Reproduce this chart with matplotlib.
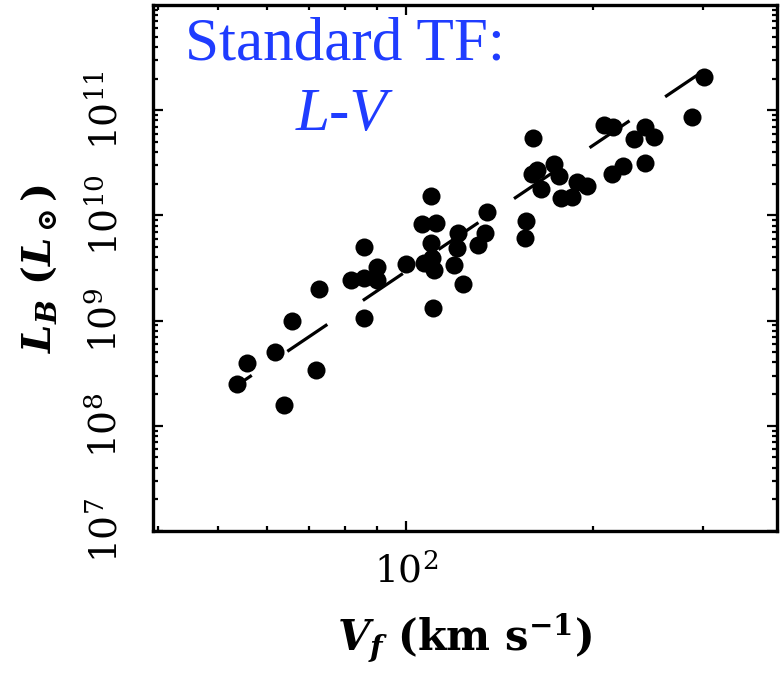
import numpy as np
import matplotlib
matplotlib.use("Agg")
import matplotlib.pyplot as plt
from matplotlib.ticker import FixedLocator, LogLocator, NullFormatter

# Rotation velocity (km/s) and B-band luminosity (L_sun)
v_f = [53.6, 55.7, 61.7, 63.7, 65.7, 71.7, 72.6, 81.6, 85.8, 85.8,
       85.8, 89.8, 89.8, 100.0, 106.9, 109.7, 106.4, 111.7, 109.7, 110.1,
       111.0, 110.7, 119.5, 123.7, 121.1, 121.0, 130.7, 133.9, 135.2, 155.1,
       155.7, 159.8, 159.4, 162.2, 172.9, 164.6, 176.1, 177.2, 185.0, 188.4,
       195.5, 207.9, 215.1, 232.2, 242.4, 250.6, 214.4, 223.3, 242.4, 288.0,
       300.6]
l_b = [2.48e8, 3.95e8, 4.98e8, 1.59e8, 9.9e8, 3.39e8, 2.0e9, 2.42e9, 5.04e9, 2.52e9,
       1.07e9, 3.2e9, 2.43e9, 3.49e9, 3.53e9, 1.53e10, 8.28e9, 8.47e9, 5.43e9, 3.94e9,
       3.03e9, 1.33e9, 3.38e9, 2.21e9, 6.76e9, 4.9e9, 5.23e9, 6.76e9, 1.08e10, 6.1e9,
       8.94e9, 5.41e10, 2.5e10, 2.7e10, 3.08e10, 1.78e10, 2.37e10, 1.45e10, 1.51e10, 2.09e10,
       1.9e10, 7.23e10, 6.92e10, 5.32e10, 6.97e10, 5.6e10, 2.5e10, 2.92e10, 3.13e10, 8.53e10,
       2.07e11]

# fitted relation, L ~ V^4
fit_v = [53.6, 300.6]
fit_l = [2.42e8, 2.37e11]

ytick_vals = [1e7, 1e8, 1e9, 1e10, 1e11]
ytick_labels = [r"$\mathdefault{10^{7}}$", r"$\mathdefault{10^{8}}$", r"$\mathdefault{10^{9}}$",
                r"$\mathdefault{10^{10}}$", r"$\mathdefault{10^{11}}$"]
xtick_vals = [100]
xtick_labels = [r"$\mathdefault{10^{2}}$"]

blue = "#1f3cff"

plt.rcParams["font.family"] = ["DejaVu Serif"]
plt.rcParams["mathtext.fontset"] = "custom"
plt.rcParams["mathtext.rm"] = "DejaVu Serif:bold"
plt.rcParams["mathtext.it"] = "DejaVu Serif:italic:bold"
plt.rcParams["mathtext.bf"] = "DejaVu Serif:bold"
plt.rcParams["lines.scale_dashes"] = False

fig = plt.figure(figsize=(7.82, 6.89), dpi=100)
ax = fig.add_axes([0.1953, 0.2293, 0.7983, 0.7634])

# long-dashed fit line, then the galaxies
ax.plot(fit_v, fit_l, color="black", lw=2.3, linestyle=(21.7, (34.7, 30.9)),
        solid_capstyle="butt", dash_capstyle="butt")
ax.plot(v_f, l_b, "o", color="black", ms=13, mew=0)

ax.set_xscale("log")
ax.set_yscale("log")
ax.set_xlim(39.3, 394)
ax.set_ylim(1e7, 1e12)

ax.xaxis.set_major_locator(FixedLocator(xtick_vals))
ax.set_xticklabels(xtick_labels)
ax.xaxis.set_minor_locator(LogLocator(base=10, subs=np.arange(2, 10)))
ax.xaxis.set_minor_formatter(NullFormatter())
ax.yaxis.set_major_locator(FixedLocator(ytick_vals))
ax.set_yticklabels(ytick_labels, rotation=90, va="center")
ax.yaxis.set_minor_locator(LogLocator(base=10, subs=np.arange(2, 10)))
ax.yaxis.set_minor_formatter(NullFormatter())

ax.tick_params(which="both", direction="in", top=True, right=True, width=1.6, labelsize=27)
ax.tick_params(which="major", length=7)
ax.tick_params(which="minor", length=3.5)
ax.tick_params(axis="x", pad=16)
ax.tick_params(axis="y", pad=20)
for s in ax.spines.values():
    s.set_linewidth(2.4)

ax.set_xlabel(r"$V_f$ (km s$^{-1}$)", fontsize=30, fontweight="bold", labelpad=16)
ax.set_ylabel(r"$L_B$ ($L_\odot$)", fontsize=29, fontweight="bold", labelpad=20)

ax.text(0.052, 0.897, "Standard TF:", transform=ax.transAxes, color=blue,
        fontsize=44, family="Liberation Serif", ha="left", va="baseline")
ax.text(0.302, 0.762, "L-V", transform=ax.transAxes, color=blue,
        fontsize=44, family="Liberation Serif", style="italic", ha="center", va="baseline")

fig.savefig("out.png", dpi=100)
